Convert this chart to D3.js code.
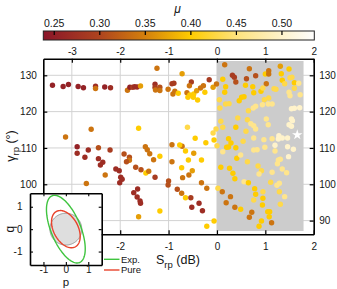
<!DOCTYPE html>
<html>
<head>
<meta charset="utf-8">
<script src="https://cdn.jsdelivr.net/npm/d3@7"></script>
<style>
body{margin:0;background:#fff}
text{font-family:"Liberation Sans",Arial,sans-serif;fill:#151515}
</style>
</head>
<body>
<script>
// squeezing S_rp (dB), angle gamma_rp (deg), colour = mu
var S = [-3.40,-3.18,-3.07,-2.87,-2.76,-2.51,-2.51,-2.32,-2.20,-1.85,
 -1.80,-1.74,-1.70,-1.65,-1.58,-1.28,-1.28,-1.27,-1.18,-1.18,
 -1.24,-1.01,-0.93,-0.89,-0.87,-0.91,-0.80,-0.72,-0.53,-0.57,
 -0.62,-0.60,-0.56,-0.48,-0.42,-0.40,-0.49,-0.34,-0.28,-0.25,
 -0.16,-0.08,-0.01,0.05,0.06,0.08,-0.02,0.12,-0.61,-0.45,
 -0.23,-0.08,-0.06,-1.62,-2.60,-3.13,-0.93,-0.72,-2.89,-2.45,
 -2.66,-2.21,-2.89,-2.73,-2.45,-2.36,-2.41,-2.31,-2.70,-1.92,
 -1.81,-1.81,-1.87,-2.09,-2.02,-1.99,-2.01,-1.96,-1.68,-1.57,
 -1.47,-1.41,-1.48,-1.44,-1.39,-1.31,-1.18,-1.28,-1.72,-1.64,
 -1.65,-1.59,-1.58,-1.62,-1.18,-1.00,-1.01,-0.93,-0.82,-0.73,
 -0.73,-0.71,-0.59,-0.58,-0.65,-0.77,-0.65,-0.48,-0.32,-0.51,
 -0.32,-0.21,-0.54,-0.52,-0.37,-0.30,-0.21,-0.06,0.02,0.11,
 0.16,0.67,1.31,1.49,0.32,0.36,0.39,0.61,0.80,1.00,
 1.07,1.07,1.02,1.33,1.35,1.51,1.55,0.12,0.18,0.16,
 0.59,0.74,0.76,0.91,0.95,1.18,1.22,1.40,1.60,1.49,
 1.51,1.72,0.51,0.56,0.46,0.18,0.25,0.98,1.07,0.94,
 1.06,1.14,0.75,0.80,0.65,0.63,0.43,0.39,1.54,1.60,
 1.71,1.54,1.56,1.49,1.54,1.02,1.06,0.97,1.14,0.70,
 0.76,0.80,0.76,0.60,0.54,1.28,1.27,1.35,1.46,1.20,
 0.99,0.24,0.29,0.20,0.00,0.12,0.24,0.39,0.41,0.49,
 0.08,0.26,0.33,0.37,0.63,0.56,0.65,0.76,0.83,0.85,
 0.92,0.87,1.14,1.20,1.27,1.25,1.31,1.48,1.58,1.46,
 1.35,1.44,0.78,0.80,0.95,1.11,1.24,1.29,1.29,1.40,
 0.76,0.95,0.94,1.31,0.37,0.49,0.72,0.67,1.05,1.09,
 1.08,0.92,1.13,0.87,0.19,0.28,1.69,1.60];
var G = [127.25,126.92,127.47,126.92,126.59,127.0,126.37,126.78,126.59,125.87,
 126.7,126.7,126.86,126.78,127.06,127.53,126.64,125.96,126.7,125.82,
 131.93,126.15,127.69,127.8,125.6,124.86,125.05,130.44,128.16,127.14,
 125.21,123.95,124.58,124.86,125.76,123.2,123.95,126.51,127.14,125.32,
 128.79,126.7,127.61,123.29,121.0,117.34,115.22,115.69,115.69,112.66,
 111.45,114.12,112.19,115.41,115.14,113.02,110.9,110.46,110.35,110.07,
 109.44,109.44,108.53,107.43,107.05,106.06,105.31,102.56,100.22,108.34,
 107.43,106.61,106.22,104.21,103.74,101.93,100.44,101.38,104.68,104.02,
 103.11,103.58,110.35,109.52,108.42,106.77,107.71,101.93,97.69,98.71,
 96.5,95.4,94.77,91.08,92.65,100.91,99.81,106.22,98.62,97.52,
 104.57,101.82,106.69,102.56,96.31,110.82,109.17,108.53,106.69,103.74,
 100.44,98.9,96.31,93.67,94.77,92.73,88.44,89.9,98.9,97.96,
 132.92,131.82,132.48,131.74,130.0,129.45,128.16,129.07,129.89,130.36,
 131.27,130.36,127.69,130.44,128.63,129.34,129.45,128.9,126.86,125.32,
 127.25,126.86,125.21,125.6,126.51,126.31,126.15,127.69,127.97,125.32,
 124.39,124.66,123.95,124.11,123.01,122.1,122.19,123.29,123.75,121.91,
 122.1,122.1,121.0,121.47,120.26,117.78,118.25,115.69,120.81,120.92,
 121.08,117.97,117.51,116.4,115.96,117.97,116.4,112.28,112.55,116.68,
 116.13,115.22,112.74,114.59,111.84,113.38,112.47,112.74,112.74,110.73,
 110.18,112.55,111.37,110.18,110.62,108.97,110.27,110.07,107.16,108.06,
 104.68,104.4,103.03,101.54,106.22,100.71,100.44,109.44,109.52,105.04,
 103.74,102.83,103.3,109.17,106.69,105.67,106.88,107.6,109.63,110.35,
 104.21,103.19,98.79,97.25,97.96,100.55,99.72,100.27,97.96,96.59,
 95.68,96.15,94.3,94.49,93.67,93.12,92.29,90.92,92.46,92.46,
 91.08,89.9,89.43,88.44,94.93,96.59,127.8,126.42];
var MU = [.255,.255,.255,.255,.255,.27,.34,.255,.27,.34,
 .255,.29,.27,.27,.37,.27,.29,.34,.31,.34,
 .34,.34,.29,.29,.34,.34,.40,.37,.29,.34,
 .34,.40,.40,.40,.37,.40,.40,.34,.34,.40,
 .29,.37,.34,.43,.43,.43,.43,.43,.43,.40,
 .40,.43,.40,.40,.34,.34,.34,.34,.255,.31,
 .27,.29,.27,.27,.27,.27,.27,.34,.34,.31,
 .31,.34,.31,.27,.27,.27,.27,.27,.31,.31,
 .40,.34,.34,.34,.34,.34,.40,.29,.27,.27,
 .27,.27,.27,.37,.40,.31,.31,.34,.31,.34,
 .40,.34,.40,.34,.40,.40,.40,.37,.40,.37,
 .34,.34,.29,.27,.27,.27,.40,.40,.43,.34,
 .34,.34,.37,.40,.29,.29,.31,.31,.31,.40,
 .34,.34,.34,.40,.40,.43,.43,.40,.40,.40,
 .40,.40,.40,.40,.43,.43,.43,.43,.40,.46,
 .46,.46,.40,.40,.40,.43,.43,.43,.43,.46,
 .46,.46,.46,.46,.43,.43,.43,.40,.50,.50,
 .50,.50,.50,.50,.50,.46,.46,.46,.46,.46,
 .46,.46,.46,.43,.43,.50,.50,.50,.50,.50,
 .46,.40,.40,.40,.43,.46,.40,.40,.40,.46,
 .40,.40,.40,.40,.43,.46,.40,.46,.46,.43,
 .43,.46,.46,.46,.46,.46,.46,.50,.50,.50,
 .46,.46,.40,.40,.43,.43,.46,.46,.43,.46,
 .43,.40,.40,.43,.34,.40,.34,.34,.40,.40,
 .40,.40,.34,.40,.34,.34,.46,.43];
var starS = [1.66], starG = [113.6];

var xTicks = [-3,-2,-1,0,1,2];
var yTicksLeft = [100,110,120,130];
var yTicksRight = [90,100,110,120,130];
var muTicks = [0.25,0.30,0.35,0.40,0.45,0.50];
var muStops = [0.238,0.30,0.35,0.40,0.45,0.50,0.536];
var muColors = ["#8a1529","#ae441f","#d4800c","#ffcc00","#ffe27c","#fff3cb","#ffffff"];

// inset: semi-axes and tilt (deg) of the Wigner contours
var ellNames = ["vac","Pure","Exp."];
var ellA = [0.71,0.894,1.61];
var ellB = [0.71,0.548,0.66];
var ellT = [0,-62,-67.6];
var pqTicks = [-1,0,1];

var fmt = function(d){return String(d);};

var svg = d3.select("body").append("svg").attr("width",337).attr("height",289);

var x = d3.scaleLinear().domain([-3.59,2]).range([43.3,313.7]);
var y = d3.scaleLinear().domain([86.23,134.57]).range([234.3,58.7]);
var color = d3.scaleLinear().domain(muStops).range(muColors);

// grid
svg.append("g").selectAll("line").data(xTicks.slice(0,5)).enter().append("line")
  .attr("x1",function(d){return x(d);}).attr("x2",function(d){return x(d);})
  .attr("y1",y.range()[0]).attr("y2",y.range()[1])
  .attr("stroke","#d2d2d2").attr("stroke-width",1);
svg.append("g").selectAll("line").data(yTicksRight).enter().append("line")
  .attr("y1",function(d){return y(d);}).attr("y2",function(d){return y(d);})
  .attr("x1",x.range()[0]).attr("x2",x.range()[1])
  .attr("stroke","#d2d2d2").attr("stroke-width",1);

// shaded squeezed region
svg.append("rect").attr("x",x(0)).attr("y",y(133.94))
  .attr("width",x(1.79)-x(0)).attr("height",y(87.14)-y(133.94))
  .attr("fill","#cccccc");

// dots
var pts = S.map(function(s,i){return {s:s,g:G[i],m:MU[i]};});
svg.append("g").selectAll("circle").data(pts).enter().append("circle")
  .attr("cx",function(d){return x(d.s);}).attr("cy",function(d){return y(d.g);})
  .attr("r",2.7).attr("fill",function(d){return color(d.m);});

svg.append("path").attr("d",d3.symbol(d3.symbolStar).size(34))
  .attr("transform","translate("+x(starS[0])+","+y(starG[0])+")")
  .attr("fill","#ffffff");

// axes
function style(g){
  g.attr("font-size",10).attr("font-family","Liberation Sans, Arial, sans-serif");
  g.select(".domain").attr("stroke","#000").attr("stroke-width",1.6);
  g.selectAll(".tick line").attr("stroke","#000").attr("stroke-width",1.2);
  g.selectAll(".tick text").attr("fill","#151515");
}
svg.append("g").attr("transform","translate(0,"+y.range()[1]+")")
  .call(d3.axisTop(x).tickValues(xTicks).tickFormat(fmt).tickSizeInner(-4).tickSizeOuter(0).tickPadding(4)).call(style);
svg.append("g").attr("transform","translate(0,"+y.range()[0]+")")
  .call(d3.axisBottom(x).tickValues(xTicks).tickFormat(fmt).tickSizeInner(-4).tickSizeOuter(0).tickPadding(9)).call(style);
svg.append("g").attr("transform","translate("+x.range()[0]+",0)")
  .call(d3.axisLeft(y).tickValues(yTicksLeft).tickFormat(fmt).tickSizeInner(-4).tickSizeOuter(0).tickPadding(6.5)).call(style);
svg.append("g").attr("transform","translate("+x.range()[1]+",0)")
  .call(d3.axisRight(y).tickValues(yTicksRight).tickFormat(fmt).tickSizeInner(-4).tickSizeOuter(0).tickPadding(5.5)).call(style);

// axis labels
var xl = svg.append("text").attr("x",156).attr("y",264).attr("font-size",12.5);
xl.append("tspan").text("S");
xl.append("tspan").attr("dy",3.5).attr("font-size",9.5).text("rp");
xl.append("tspan").attr("dy",-3.5).text(" (dB)");

var yl = svg.append("text").attr("transform","translate(15,146) rotate(-90)")
  .attr("text-anchor","middle").attr("font-size",12.5);
yl.append("tspan").text("γ");
yl.append("tspan").attr("dy",3.5).attr("font-size",9.5).text("rp");
yl.append("tspan").attr("dy",-3.5).text(" (°)");

// colorbar
var cb = d3.scaleLinear().domain([0.238,0.5355]).range([43.3,314.3]);
var grad = svg.append("defs").append("linearGradient").attr("id","mugrad");
muStops.forEach(function(m,i){
  grad.append("stop").attr("offset",(m-muStops[0])/(muStops[muStops.length-1]-muStops[0]))
    .attr("stop-color",muColors[i]);
});
svg.append("rect").attr("x",cb.range()[0]).attr("y",31).attr("width",cb.range()[1]-cb.range()[0])
  .attr("height",9).attr("fill","url(#mugrad)").attr("stroke","#222").attr("stroke-width",1);
svg.append("g").selectAll("line").data(muTicks).enter().append("line")
  .attr("x1",function(d){return cb(d);}).attr("x2",function(d){return cb(d);})
  .attr("y1",31).attr("y2",35).attr("stroke","#000").attr("stroke-width",1.2);
svg.append("g").selectAll("text").data(muTicks).enter().append("text")
  .attr("x",function(d){return cb(d);}).attr("y",27).attr("text-anchor","middle")
  .attr("font-size",10.5).text(function(d){return d3.format(".2f")(d);});
svg.append("text").attr("x",177.5).attr("y",13).attr("text-anchor","middle")
  .attr("font-size",12).attr("font-style","italic").text("μ");

// inset
var px = d3.scaleLinear().domain([-1.6,1.6]).range([30,101.7]);
var py = d3.scaleLinear().domain([-1.6,1.6]).range([265,193.3]);
var ins = svg.append("g");
ins.append("rect").attr("x",px(-1.6)).attr("y",py(1.6)).attr("width",px(1.6)-px(-1.6))
  .attr("height",py(-1.6)-py(1.6)).attr("fill","#fff");

function ellipse(i){
  var th = ellT[i]*Math.PI/180, out = [];
  for (var k=0;k<120;k++){
    var t = 2*Math.PI*k/120;
    out.push([ellA[i]*Math.cos(t)*Math.cos(th)-ellB[i]*Math.sin(t)*Math.sin(th),
              ellA[i]*Math.cos(t)*Math.sin(th)+ellB[i]*Math.sin(t)*Math.cos(th)]);
  }
  return out;
}
var eline = d3.line().x(function(d){return px(d[0]);}).y(function(d){return py(d[1]);}).curve(d3.curveLinearClosed);
ins.append("path").attr("d",eline(ellipse(0))).attr("fill","#dedede").attr("stroke","#9a9a9a").attr("stroke-width",1);
ins.append("path").attr("d",eline(ellipse(2))).attr("fill","none").attr("stroke","#3fc43f").attr("stroke-width",1.4);
ins.append("path").attr("d",eline(ellipse(1))).attr("fill","none").attr("stroke","#e8432b").attr("stroke-width",1.4);

function istyle(g){
  g.attr("font-size",10).attr("font-family","Liberation Sans, Arial, sans-serif");
  g.select(".domain").attr("stroke","#000").attr("stroke-width",1.6);
  g.selectAll(".tick line").attr("stroke","#000").attr("stroke-width",1.1);
}
ins.append("g").attr("transform","translate(0,"+py(-1.6)+")")
  .call(d3.axisBottom(px).tickValues(pqTicks).tickFormat(fmt).tickSizeInner(-3).tickSizeOuter(0).tickPadding(1)).call(istyle);
ins.append("g").attr("transform","translate(0,"+py(1.6)+")")
  .call(d3.axisTop(px).tickValues(pqTicks).tickSizeInner(-3).tickSizeOuter(0).tickFormat("")).call(istyle);
ins.append("g").attr("transform","translate("+px(-1.6)+",0)")
  .call(d3.axisLeft(py).tickValues(pqTicks).tickFormat(fmt).tickSizeInner(-3).tickSizeOuter(0).tickPadding(7.5)).call(istyle);
ins.append("g").attr("transform","translate("+px(1.6)+",0)")
  .call(d3.axisRight(py).tickValues(pqTicks).tickSizeInner(-3).tickSizeOuter(0).tickFormat("")).call(istyle);
ins.append("text").attr("x",px(0)).attr("y",285.5).attr("text-anchor","middle").attr("font-size",11.5).text("p");
ins.append("text").attr("transform","translate(14,"+py(0)+") rotate(-90)").attr("text-anchor","middle")
  .attr("font-size",12).text("q");

// legend
var leg = svg.append("g");
[["Exp.","#3fc43f",259.3],["Pure","#e8432b",270]].forEach(function(l){
  leg.append("line").attr("x1",104).attr("x2",119.5).attr("y1",l[2]).attr("y2",l[2])
    .attr("stroke",l[1]).attr("stroke-width",1.4);
  leg.append("text").attr("x",121).attr("y",l[2]+3.3).attr("font-size",9.5).text(l[0]);
});
</script>
</body>
</html>
